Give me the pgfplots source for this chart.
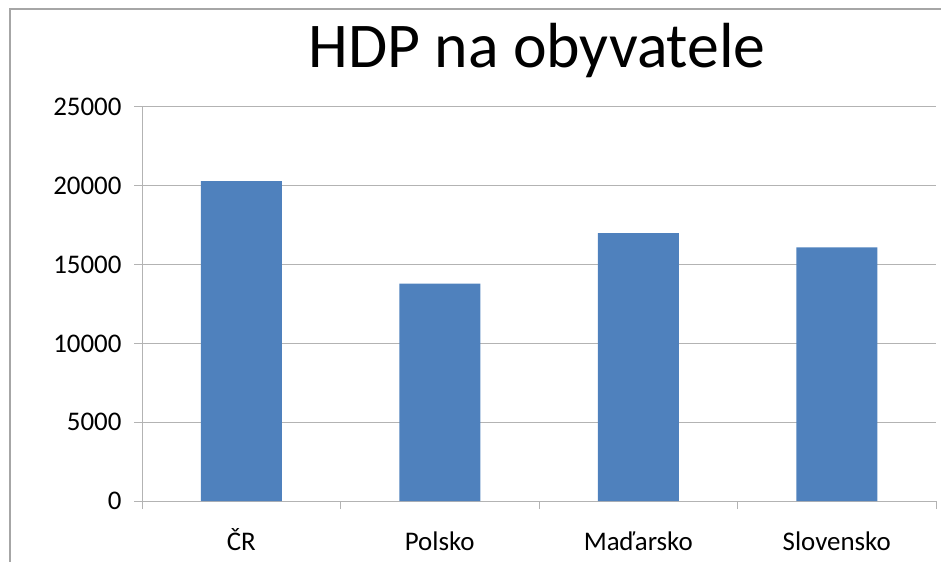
\documentclass[border=0pt]{standalone}
\usepackage{fontspec}
\setmainfont{Carlito}
\usepackage{pgfplots}
\pgfplotsset{compat=1.18}
\definecolor{barblue}{HTML}{4F81BD}
\definecolor{gridgray}{HTML}{B3B3B3}
\definecolor{framegray}{HTML}{A6A6A6}
\begin{document}
\begin{tikzpicture}
\useasboundingbox (0bp,0bp) rectangle (941bp,562bp);
\draw[framegray, line width=1.3bp] (10bp,0bp) -- (10bp,553bp) -- (941bp,553bp);
\begin{axis}[
  at={(142bp,61bp)}, anchor=south west,
  scale only axis, width=794bp, height=394bp,
  xmin=-0.5, xmax=3.5, ymin=0, ymax=25000,
  ytick={0,5000,10000,15000,20000,25000},
  scaled y ticks=false,
  yticklabel style={/pgf/number format/fixed, /pgf/number format/1000 sep={}, /pgf/number format/assume math mode=true, xshift=-9bp},
  xtick={-0.5,0.5,1.5,2.5,3.5},
  xticklabels={},
  extra x ticks={0,1,2,3},
  extra x tick labels={ČR,Polsko,Maďarsko,Slovensko},
  extra x tick style={major tick length=0pt, tick label style={text height=18bp, text depth=5bp, yshift=-28bp}},
  tick align=outside,
  major tick length=8bp,
  tick style={gridgray, line width=1bp},
  axis x line*=bottom, axis y line*=left,
  axis line style={gridgray, line width=1bp, -},
  ymajorgrids, grid style={gridgray, line width=1bp},
  ticklabel style={font=\fontsize{27}{32}\selectfont, black},
  ybar, bar width=81bp,
  clip=false,
]
\addplot[fill=barblue, draw=none] coordinates {(0,20300) (1,13800) (2,17000) (3,16100)};
\end{axis}
\node[anchor=base, font=\fontsize{64}{70}\selectfont] at (537bp,494bp) {HDP na obyvatele};
\end{tikzpicture}
\end{document}
